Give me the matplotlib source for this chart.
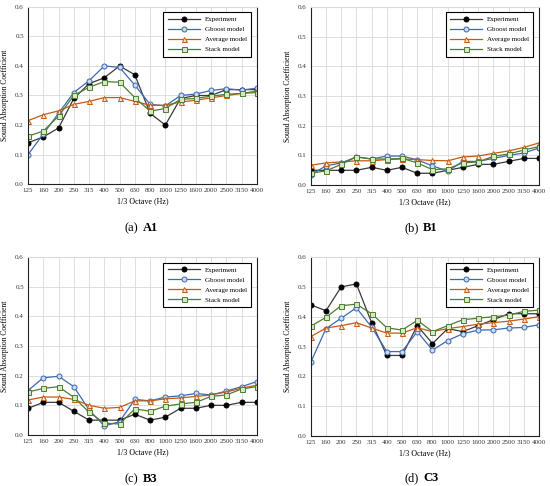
import matplotlib.pyplot as plt

plt.rcParams["font.family"] = ["Liberation Serif", "DejaVu Serif"]

freqs = ["125", "160", "200", "250", "315", "400", "500", "630", "800",
         "1000", "1250", "1600", "2000", "2500", "3150", "4000"]

# A1
a1_exp = [0.14, 0.16, 0.19, 0.29, 0.34, 0.36, 0.40, 0.37, 0.24, 0.20, 0.29, 0.30, 0.30, 0.32, 0.32, 0.32]
a1_gb = [0.10, 0.17, 0.24, 0.31, 0.35, 0.40, 0.395, 0.335, 0.27, 0.265, 0.30, 0.305, 0.317, 0.323, 0.318, 0.325]
a1_avg = [0.215, 0.235, 0.248, 0.27, 0.28, 0.293, 0.293, 0.28, 0.267, 0.267, 0.278, 0.284, 0.292, 0.30, 0.307, 0.315]
a1_stk = [0.162, 0.18, 0.23, 0.30, 0.328, 0.347, 0.345, 0.293, 0.247, 0.256, 0.287, 0.29, 0.298, 0.304, 0.307, 0.31]

# B1
b1_exp = [0.05, 0.05, 0.05, 0.05, 0.06, 0.05, 0.06, 0.04, 0.04, 0.05, 0.06, 0.07, 0.07, 0.08, 0.09, 0.09]
b1_gb = [0.035, 0.065, 0.075, 0.095, 0.088, 0.098, 0.098, 0.085, 0.065, 0.047, 0.08, 0.08, 0.09, 0.10, 0.108, 0.125]
b1_avg = [0.067, 0.075, 0.078, 0.082, 0.082, 0.086, 0.088, 0.086, 0.083, 0.082, 0.095, 0.098, 0.107, 0.115, 0.127, 0.142]
b1_stk = [0.04, 0.048, 0.07, 0.095, 0.088, 0.088, 0.09, 0.075, 0.052, 0.055, 0.075, 0.078, 0.097, 0.105, 0.118, 0.13]

# B3
b3_exp = [0.09, 0.11, 0.11, 0.08, 0.05, 0.05, 0.05, 0.07, 0.05, 0.06, 0.09, 0.09, 0.10, 0.10, 0.11, 0.11]
b3_gb = [0.15, 0.193, 0.198, 0.163, 0.085, 0.03, 0.045, 0.12, 0.115, 0.128, 0.132, 0.14, 0.135, 0.148, 0.163, 0.18]
b3_avg = [0.118, 0.128, 0.128, 0.12, 0.10, 0.09, 0.093, 0.115, 0.115, 0.122, 0.125, 0.13, 0.135, 0.145, 0.158, 0.168]
b3_stk = [0.145, 0.157, 0.163, 0.127, 0.077, 0.04, 0.037, 0.088, 0.08, 0.097, 0.105, 0.11, 0.13, 0.135, 0.155, 0.163]

# C3
c3_exp = [0.44, 0.42, 0.50, 0.51, 0.38, 0.27, 0.27, 0.37, 0.31, 0.36, 0.35, 0.37, 0.39, 0.41, 0.41, 0.41]
c3_gb = [0.247, 0.36, 0.395, 0.43, 0.365, 0.283, 0.283, 0.35, 0.288, 0.32, 0.343, 0.355, 0.356, 0.362, 0.364, 0.373]
c3_avg = [0.333, 0.362, 0.37, 0.38, 0.362, 0.345, 0.345, 0.363, 0.35, 0.36, 0.367, 0.375, 0.38, 0.385, 0.392, 0.40]
c3_stk = [0.368, 0.398, 0.437, 0.442, 0.41, 0.363, 0.355, 0.388, 0.35, 0.37, 0.39, 0.395, 0.40, 0.405, 0.418, 0.422]

panels = [
    ("(a)", "A1", [a1_exp, a1_gb, a1_avg, a1_stk]),
    ("(b)", "B1", [b1_exp, b1_gb, b1_avg, b1_stk]),
    ("(c)", "B3", [b3_exp, b3_gb, b3_avg, b3_stk]),
    ("(d)", "C3", [c3_exp, c3_gb, c3_avg, c3_stk]),
]

labels = ["Experiment", "Gboost model", "Average model", "Stack model"]
styles = [
    dict(color="#3a3a3a", marker="o", mfc="black", mec="black"),
    dict(color="#3f68b0", marker="o", mfc="#c9daf2", mec="#3f68b0"),
    dict(color="#c55a11", marker="^", mfc="#fbe2d0", mec="#c55a11"),
    dict(color="#4e7d30", marker="s", mfc="#d5e8c4", mec="#4e7d30"),
]

# axes rectangles in figure fraction
rects = [
    [0.051, 0.621, 0.416, 0.365],
    [0.565, 0.619, 0.415, 0.367],
    [0.051, 0.105, 0.416, 0.366],
    [0.565, 0.103, 0.415, 0.368],
]
cap_pos = [(0.255, 0.531), (0.765, 0.531), (0.255, 0.014), (0.765, 0.016)]

fig = plt.figure(figsize=(5.5, 4.86), dpi=100)
x = list(range(len(freqs)))

for (tag, name, series), rect, (cx, cy) in zip(panels, rects, cap_pos):
    ax = fig.add_axes(rect)
    for vals, lab, st in zip(series, labels, styles):
        ax.plot(x, vals, label=lab, lw=0.9, ms=3.6, mew=0.7, **st)
    ax.set_xlim(0, len(freqs) - 1)
    ax.set_ylim(0, 0.6)
    ax.set_xticks(x)
    ax.set_xticklabels(freqs)
    ax.set_yticks([0.0, 0.1, 0.2, 0.3, 0.4, 0.5, 0.6])
    ax.set_yticklabels(["0.0", "0.1", "0.2", "0.3", "0.4", "0.5", "0.6"])
    ax.tick_params(labelsize=5, length=0, pad=3, colors="#333333")
    ax.grid(True, color="#d9d9d9", lw=0.6)
    ax.set_axisbelow(True)
    for side in ["left", "bottom", "right"]:
        ax.spines[side].set_color("#222222")
        ax.spines[side].set_linewidth(0.8)
    ax.spines["top"].set_color("#d9d9d9")
    ax.set_xlabel("1/3 Octave (Hz)", fontsize=5.8, labelpad=3)
    ax.set_ylabel("Sound Absorption Coefficient", fontsize=5.5, labelpad=4)
    leg = ax.legend(loc="upper right", fontsize=5, fancybox=False,
                    edgecolor="black", framealpha=1, handlelength=4.6,
                    borderpad=0.6, labelspacing=0.6, borderaxespad=0.8)
    leg.get_frame().set_linewidth(0.8)
    fig.text(cx - 0.003, cy, tag, ha="right", va="center", fontsize=9)
    fig.text(cx + 0.004, cy, name, ha="left", va="center", fontsize=9,
             fontweight="bold")

fig.savefig("out.png", dpi=100)
